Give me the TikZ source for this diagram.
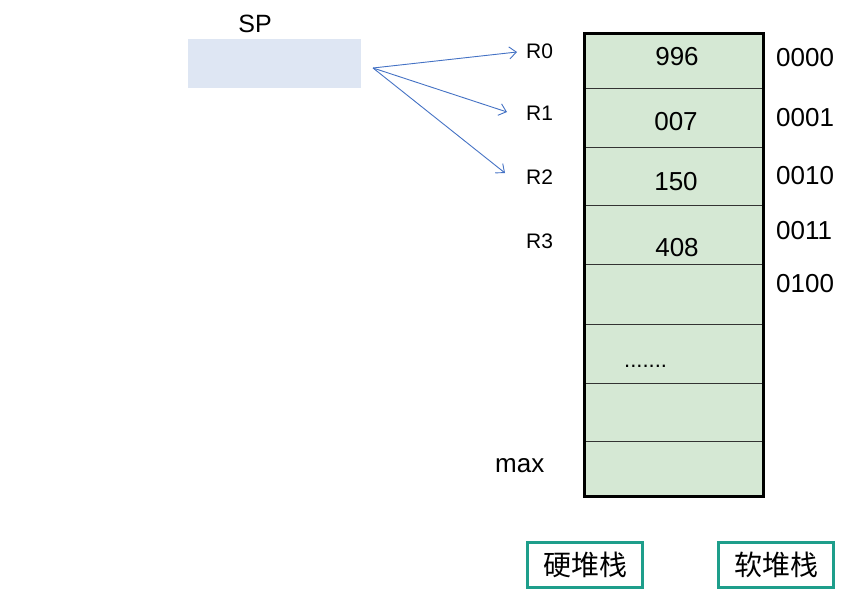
\documentclass[tikz,border=0pt]{standalone}
\usepackage{fontspec}
\setmainfont{Liberation Sans}
\newfontfamily\cjk{Noto Sans CJK SC}
\usetikzlibrary{arrows.meta}
\definecolor{cellgreen}{HTML}{D5E8D4}
\definecolor{spblue}{HTML}{DEE6F3}
\definecolor{arrowblue}{HTML}{4472C4}
\definecolor{teal}{HTML}{1E9E8B}
\begin{document}
\begin{tikzpicture}[x=1pt,y=-1pt,
  cell/.style={draw=black!80, line width=0.9pt, fill=cellgreen, minimum width=179pt, inner sep=0pt, anchor=north west},
  val/.style={font=\fontsize{26}{28}\selectfont, inner sep=0pt},
  addr/.style={font=\fontsize{26}{28}\selectfont, inner sep=0pt, anchor=west},
  reg/.style={font=\fontsize{21}{24}\selectfont, inner sep=0pt, anchor=west},
  ptr/.style={draw=arrowblue, line width=0.9pt, -{Straight Barb[length=7pt,width=12pt]}},
  tag/.style={draw=teal, line width=3.4pt, minimum width=115pt, minimum height=45pt, inner sep=0pt, font=\cjk\fontsize{28}{30}\selectfont}
]
\useasboundingbox (0,0) rectangle (854,602);
% SP register
\node[fill=spblue, minimum width=173pt, minimum height=49pt, inner sep=0pt, anchor=north west] (sp) at (188,39) {};
\node[font=\fontsize{25}{28}\selectfont, inner sep=0pt] (splabel) at (255,24) {SP};
% stack cells
\node[cell, minimum height=54pt] (c0) at (584,34) {};
\node[cell, minimum height=59pt] (c1) at (584,88) {};
\node[cell, minimum height=58pt] (c2) at (584,147) {};
\node[cell, minimum height=59pt] (c3) at (584,205) {};
\node[cell, minimum height=60pt] (c4) at (584,264) {};
\node[cell, minimum height=59pt] (c5) at (584,324) {};
\node[cell, minimum height=58pt] (c6) at (584,383) {};
\node[cell, minimum height=55pt] (c7) at (584,441) {};
\draw[line width=3pt] (c0.north west) rectangle (c7.south east);
% values
\node[val] (v0) at (677,57) {996};
\node[val] (v1) at (676,122) {007};
\node[val] (v2) at (676,182) {150};
\node[val] (v3) at (677,248) {408};
\node[font=\fontsize{22}{24}\selectfont, inner sep=0pt, anchor=base west] (dots) at (624,367) {.......};
% addresses
\node[addr] (a0) at (776,58) {0000};
\node[addr] (a1) at (776,118) {0001};
\node[addr] (a2) at (776,176) {0010};
\node[addr] (a3) at (776,231) {0011};
\node[addr] (a4) at (776,284) {0100};
% register labels
\node[reg] (r0) at (526,51) {R0};
\node[reg] (r1) at (526,113) {R1};
\node[reg] (r2) at (526,177) {R2};
\node[reg] (r3) at (526,241) {R3};
\node[font=\fontsize{26}{28}\selectfont, inner sep=0pt, anchor=west] (max) at (495,466) {max};
% pointers
\coordinate (src) at (373,68);
\coordinate (t0) at (517,52);
\coordinate (t1) at (507,112);
\coordinate (t2) at (505,173);
\draw[ptr] (src) -- (t0);
\draw[ptr] (src) -- (t1);
\draw[ptr] (src) -- (t2);
% tags
\node[tag] (hard) at (585,565) {硬堆栈};
\node[tag] (soft) at (776,565) {软堆栈};
\end{tikzpicture}
\end{document}
